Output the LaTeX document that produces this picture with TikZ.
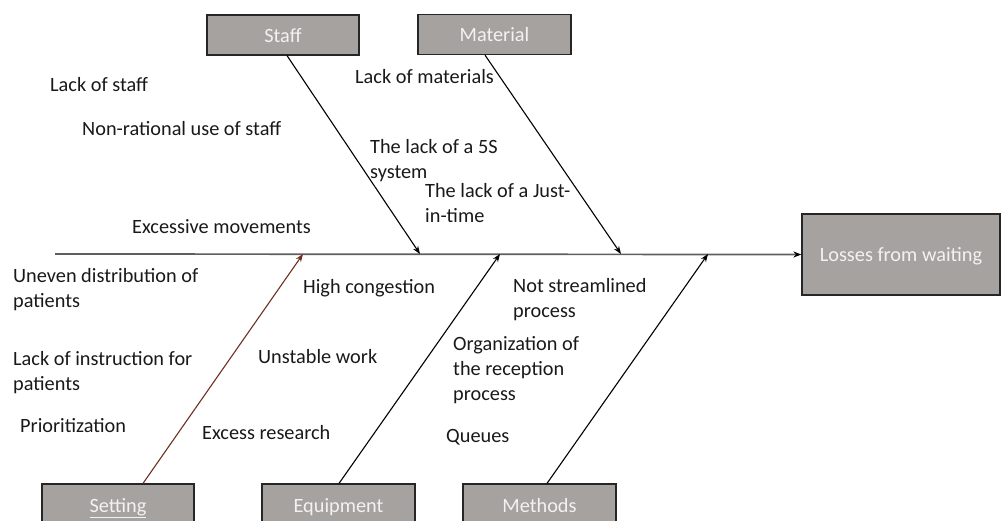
\documentclass[tikz,border=0pt]{standalone}
\usepackage{fontspec}
\setmainfont{Carlito}
\usetikzlibrary{arrows.meta}
\definecolor{boxfill}{RGB}{166,162,160}
\definecolor{boxtext}{RGB}{242,242,242}
\definecolor{spinegray}{RGB}{95,95,95}
\definecolor{settingline}{RGB}{110,48,30}
\begin{document}
\begin{tikzpicture}[x=1pt,y=-1pt,
  every node/.style={font=\fontsize{20.3}{25}\selectfont},
  catbox/.style={draw=black!85, line width=1.2pt, fill=boxfill, text=boxtext,
    inner sep=0pt, text height=15pt, text depth=1pt},
  % multi-line causes are placed by the baseline of their last line
  cause/.style={anchor=base west, inner sep=0pt, align=left, text=black!90},
  branch/.style={line width=1.1pt, -{Stealth[length=8pt,width=6pt]}},
]
\useasboundingbox (0,0) rectangle (1001,520);
\clip (0,0) rectangle (1001,520);

% effect and categories
\node[catbox, minimum width=198pt, minimum height=81pt] (losses) at (901,254.5) {Losses from waiting};
\node[catbox, minimum width=152pt, minimum height=40pt] (staff) at (283,35) {Staff};
\node[catbox, minimum width=153pt, minimum height=40pt] (material) at (494.5,34.5) {Material};
\node[catbox, minimum width=152pt, minimum height=42pt] (setting) at (118,505) {\underline{Setting}};
\node[catbox, minimum width=153pt, minimum height=42pt] (equipment) at (338.5,505) {Equipment};
\node[catbox, minimum width=153pt, minimum height=42pt] (methods) at (539.5,505) {Methods};

% spine and junctions
\coordinate (tail) at (55,254);
\coordinate (jstaff) at (420,254);
\coordinate (jmaterial) at (621,254);
\coordinate (jsetting) at (303,254);
\coordinate (jequipment) at (500,254);
\coordinate (jmethods) at (708,254);

\draw[spinegray, line width=1.7pt, -{Stealth[length=8pt,width=6pt,black]}] (tail) -- (losses.west);

% bones
\draw[branch] ([xshift=4pt]staff.south) -- (jstaff);
\draw[branch] ([xshift=-9.5pt]material.south) -- (jmaterial);
\draw[branch, settingline] ([xshift=25pt]setting.north) -- (jsetting);
\draw[branch] ([xshift=0.5pt]equipment.north) -- (jequipment);
\draw[branch] ([xshift=7.5pt]methods.north) -- (jmethods);

% causes
\node[cause] (c1) at (50,91) {Lack of staff};
\node[cause] (c2) at (82,135) {Non-rational use of staff};
\node[cause] (c3) at (355,83) {Lack of materials};
\node[cause] (c4) at (370,178) {The lack of a 5S\\system};
\node[cause] (c5) at (425,222) {The lack of a Just-\\in-time};
\node[cause] (c6) at (132,233) {Excessive movements};
\node[cause] (c7) at (13,307) {Uneven distribution of\\patients};
\node[cause] (c8) at (303,293) {High congestion};
\node[cause] (c9) at (513,317) {Not streamlined\\process};
\node[cause] (c10) at (453,400) {Organization of\\the reception\\process};
\node[cause] (c11) at (13,390) {Lack of instruction for\\patients};
\node[cause] (c12) at (258,363) {Unstable work};
\node[cause] (c13) at (20,432) {Prioritization};
\node[cause] (c14) at (202,439) {Excess research};
\node[cause] (c15) at (446,442) {Queues};
\end{tikzpicture}
\end{document}
